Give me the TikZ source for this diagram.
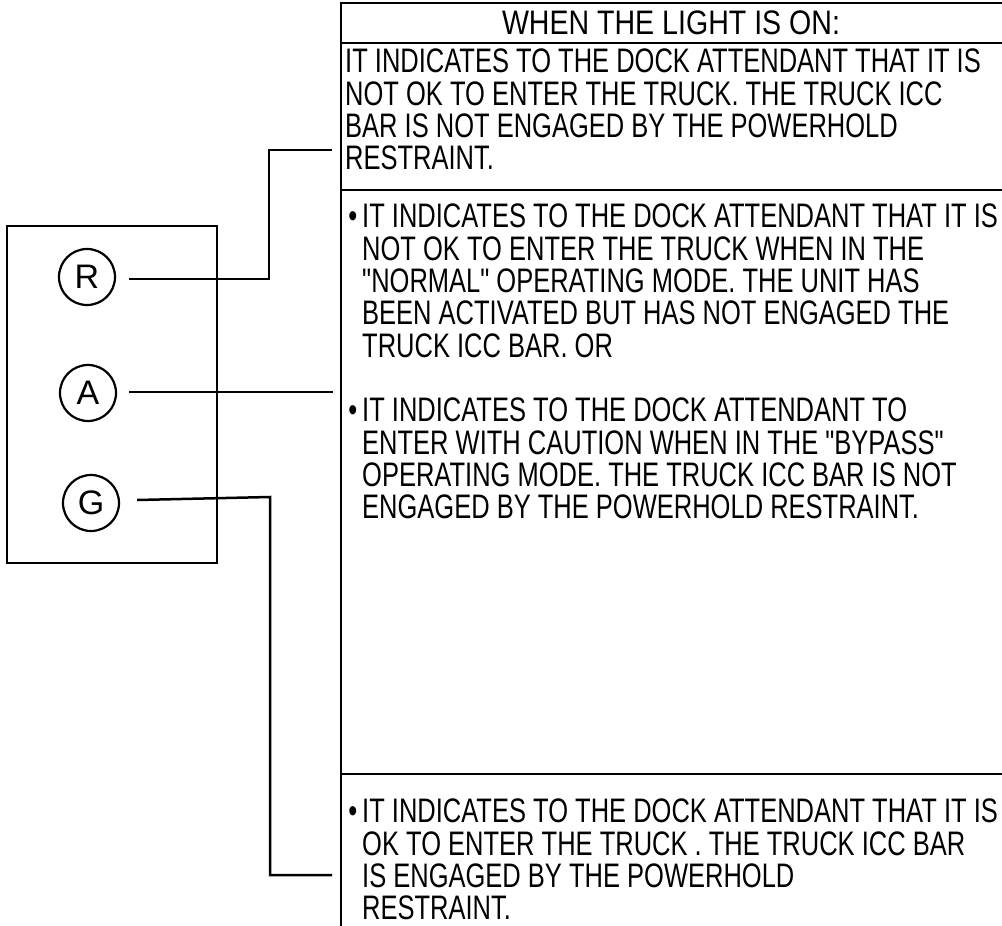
\documentclass[tikz,border=0pt]{standalone}
\usepackage{fontspec}
\setmainfont{Liberation Sans}
\newfontfamily\condfont[FakeStretch=0.75]{Liberation Sans}
\newfontfamily\headfont[FakeStretch=0.84]{Liberation Sans}
\begin{document}
\begin{tikzpicture}[x=1pt,y=-1pt,
  ln/.style={line width=2.5pt},
  lamp/.style={circle,draw,line width=2.2pt,minimum size=56pt,inner sep=0pt,font=\fontsize{34}{34}\selectfont},
  body/.style={anchor=north west,inner sep=0pt,align=left,font=\condfont\fontsize{34}{32.3}\selectfont},
  head/.style={inner sep=0pt,font=\headfont\fontsize{34}{34}\selectfont}]
\useasboundingbox (0,0) rectangle (1002,926);
% right table
\draw[ln] (1002,3) -- (341,3) -- (341,926);
\draw[ln] (341,43) -- (1002,43);
\draw[ln] (341,190) -- (1002,190);
\draw[ln] (341,774) -- (1002,774);
\node[head] (hd) at (671,23) {WHEN THE LIGHT IS ON:};
\node[body] (t1) at (345,49) {IT INDICATES TO THE DOCK ATTENDANT THAT IT IS\\NOT OK TO ENTER THE TRUCK. THE TRUCK ICC\\BAR IS NOT ENGAGED BY THE POWERHOLD\\RESTRAINT.};
\node[body] (t2) at (362,204) {\llap{•\hspace{5pt}}IT INDICATES TO THE DOCK ATTENDANT THAT IT IS\\NOT OK TO ENTER THE TRUCK WHEN IN THE\\"NORMAL" OPERATING MODE. THE UNIT HAS\\BEEN ACTIVATED BUT HAS NOT ENGAGED THE\\TRUCK ICC BAR. OR};
\node[body] (t3) at (362,398) {\llap{•\hspace{5pt}}IT INDICATES TO THE DOCK ATTENDANT TO\\ENTER WITH CAUTION WHEN IN THE "BYPASS"\\OPERATING MODE. THE TRUCK ICC BAR IS NOT\\ENGAGED BY THE POWERHOLD RESTRAINT.};
\node[body] (t4) at (362,799) {\llap{•\hspace{5pt}}IT INDICATES TO THE DOCK ATTENDANT THAT IT IS\\OK TO ENTER THE TRUCK . THE TRUCK ICC BAR\\IS ENGAGED BY THE POWERHOLD\\RESTRAINT.};
% left panel
\draw[ln] (7,226) rectangle (217,563);
\node[lamp] (R) at (87,277) {R};
\node[lamp] (A) at (88,393) {A};
\node[lamp] (G) at (91,503) {G};
% connectors
\coordinate (r1) at (269,279);
\coordinate (r2) at (269,150);
\coordinate (r3) at (332,150);
\coordinate (a1) at (333,392);
\coordinate (g1) at (270,497);
\coordinate (g2) at (270,875);
\coordinate (g3) at (332,875);
\draw[ln] (R.east) ++(13,2) -- (r1) -- (r2) -- (r3);
\draw[ln] (A.east) ++(12,-1) -- (a1);
\draw[ln] (G.east) ++(17,-3) -- (g1) -- (g2) -- (g3);
\end{tikzpicture}
\end{document}
